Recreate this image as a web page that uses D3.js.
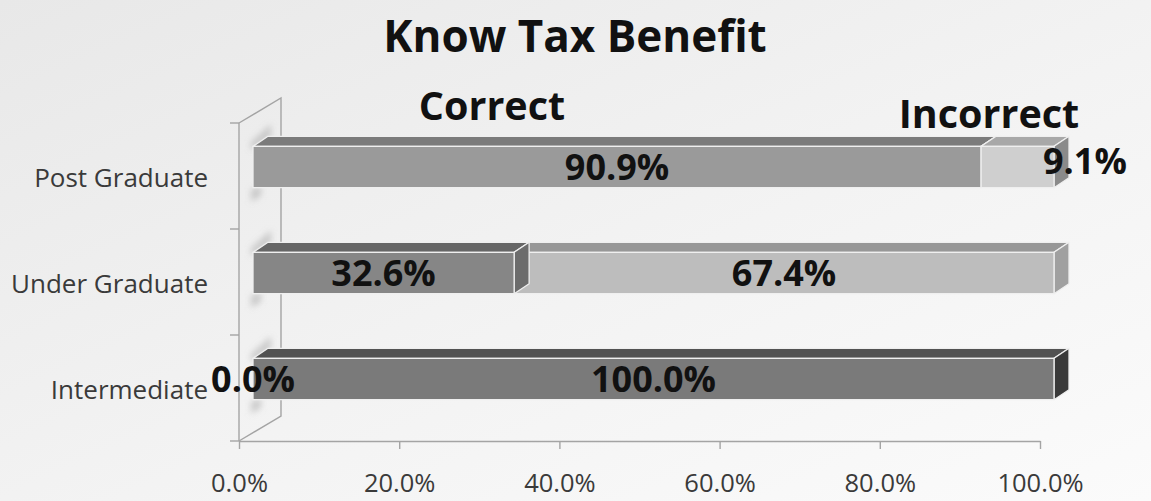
<!DOCTYPE html>
<html>
<head>
<meta charset="utf-8">
<script src="https://cdn.jsdelivr.net/npm/d3@7"></script>
<style>
  html, body { margin: 0; padding: 0; background: #f2f2f2; }
  svg { display: block; }
  text { font-family: "Open Sans", "DejaVu Sans", sans-serif; }
</style>
</head>
<body>
<svg id="chart" width="1151" height="501"></svg>
<script>
// ---- data ----
const chartTitle = "Know Tax Benefit";
const categories = ["Post Graduate", "Under Graduate", "Intermediate"];
const seriesNames = ["Correct", "Incorrect"];
const correctValues = [90.9, 32.6, 0.0];
const incorrectValues = [9.1, 67.4, 100.0];
const xTickValues = [0, 20, 40, 60, 80, 100];
const xTickLabels = ["0.0%", "20.0%", "40.0%", "60.0%", "80.0%", "100.0%"];

// ---- styling ----
// face colours [front, top, side] for each category, per series
const faceColors = {
  "Post Graduate":  [["#9a9a9a", "#7b7b7b", "#808080"], ["#cfcfcf", "#a8a8a8", "#8a8a8a"]],
  "Under Graduate": [["#868686", "#666666", "#6c6c6c"], ["#bdbdbd", "#979797", "#a0a0a0"]],
  "Intermediate":   [["#8a8a8a", "#666666", "#555555"], ["#7a7a7a", "#525252", "#3a3a3a"]]
};

const W = 1151, H = 501;
const plot = { left: 239, right: 1040, top: 123, bottom: 441 };
const wallDepth = { dx: 42, dy: -25 };   // oblique depth of the side wall / floor
const barOffset = { dx: 14, dy: -9 };    // bars sit a third of the way into the depth
const barDepth = { dx: 15, dy: -10 };    // thickness of each bar in depth

const svg = d3.select("#chart");
const defs = svg.append("defs");

const bg = defs.append("linearGradient").attr("id", "bgGrad")
  .attr("x1", "0").attr("y1", "0").attr("x2", "1").attr("y2", "1");
bg.append("stop").attr("offset", "0%").attr("stop-color", "#e8e8e8");
bg.append("stop").attr("offset", "55%").attr("stop-color", "#f3f3f3");
bg.append("stop").attr("offset", "100%").attr("stop-color", "#fbfbfb");

defs.append("filter").attr("id", "soft").attr("x", "-50%").attr("y", "-50%")
  .attr("width", "200%").attr("height", "200%")
  .append("feGaussianBlur").attr("stdDeviation", 3);

svg.append("rect").attr("width", W).attr("height", H).attr("fill", "url(#bgGrad)");

// ---- scales ----
const x = d3.scaleLinear().domain([0, 100]).range([plot.left, plot.right]);
const y = d3.scaleBand().domain(categories)
  .range([plot.top, plot.bottom])
  .paddingInner(0.61).paddingOuter(0.305);
const bw = y.bandwidth();

// ---- title and series captions ----
svg.append("text").attr("x", 575).attr("y", 52)
  .attr("text-anchor", "middle").attr("font-size", 44).attr("font-weight", 700)
  .attr("fill", "#111").text(chartTitle);

const captionPos = [{ x: 492, y: 120 }, { x: 989, y: 128 }];
svg.append("g").selectAll("text").data(seriesNames).join("text")
  .attr("x", (d, i) => captionPos[i].x).attr("y", (d, i) => captionPos[i].y)
  .attr("text-anchor", "middle").attr("font-size", 39.5).attr("font-weight", 700)
  .attr("fill", "#111").text(d => d);

// ---- side wall ----
const wall = svg.append("g").attr("fill", "none").attr("stroke", "#a4a4a4").attr("stroke-width", 1.4);
wall.append("path").attr("d",
  `M${plot.left},${plot.top}` +
  `L${plot.left + wallDepth.dx},${plot.top + wallDepth.dy}` +
  `L${plot.left + wallDepth.dx},${plot.bottom + wallDepth.dy}` +
  `L${plot.left},${plot.bottom}`);
wall.append("path").attr("d", `M${plot.left},${plot.top}V${plot.bottom}`);

// category boundary ticks on the front edge of the wall
const boundaries = categories.map(c => y(c) - y.step() * y.paddingOuter()).concat([plot.bottom]);
wall.selectAll("line.tick").data(boundaries).join("line")
  .attr("x1", plot.left - 9).attr("x2", plot.left)
  .attr("y1", d => d).attr("y2", d => d);

// soft reflections of the bar ends on the wall
svg.append("g").attr("filter", "url(#soft)").selectAll("path").data(categories).join("path")
  .attr("fill", "#9a9a9a").attr("opacity", 0.45)
  .attr("d", c => {
    const t = y(c) + barOffset.dy;
    const x0 = plot.left + 12, x1 = plot.left + 32;
    return `M${x0},${t - 4}L${x1},${t - 22}L${x1},${t - 10}L${x0},${t + 4}Z` +
           `M${x0},${t + bw + 2}L${x0 + 10},${t + bw - 2}L${x0 + 10},${t + bw + 8}L${x0},${t + bw + 14}Z`;
  });

// ---- category labels ----
svg.append("g").selectAll("text").data(categories).join("text")
  .attr("x", 208).attr("y", c => y(c) + bw / 2).attr("dy", "0.42em")
  .attr("text-anchor", "end").attr("font-size", 26).attr("fill", "#3a3a3a")
  .text(c => c);

// ---- value axis ----
const xAxis = svg.append("g").attr("transform", `translate(0,${plot.bottom})`)
  .call(d3.axisBottom(x).tickValues(xTickValues)
    .tickFormat((d, i) => xTickLabels[i]).tickSize(8).tickSizeOuter(0).tickPadding(25));
xAxis.select(".domain").attr("stroke", "#a4a4a4").attr("stroke-width", 1.4);
xAxis.selectAll(".tick line").attr("stroke", "#a4a4a4").attr("stroke-width", 1.4);
xAxis.selectAll(".tick text").attr("font-family", "Open Sans, sans-serif")
  .attr("font-size", 25.5).attr("fill", "#3a3a3a");

// ---- stacked 3D bars ----
const rows = categories.map((c, i) => {
  const vals = [correctValues[i], incorrectValues[i]];
  let acc = 0;
  const segs = vals.map((v, s) => {
    const seg = { cat: c, series: s, value: v, v0: acc, v1: acc + v };
    acc += v;
    return seg;
  });
  return { cat: c, segs };
});

const barLayer = svg.append("g").attr("stroke", "#efefef").attr("stroke-width", 1.3)
  .attr("stroke-linejoin", "round");

rows.forEach(row => {
  // paint the wider pieces first so the narrower ones sit in front
  const order = row.segs.filter(s => s.value > 0).slice().sort((a, b) => b.value - a.value);
  order.forEach(s => {
    const [front, top, side] = faceColors[s.cat][s.series];
    const x0 = x(s.v0) + barOffset.dx, x1 = x(s.v1) + barOffset.dx;
    const yt = y(s.cat) + barOffset.dy, yb = yt + bw;
    const g = barLayer.append("g");
    g.append("path").attr("fill", top).attr("d",
      `M${x0},${yt}L${x1},${yt}L${x1 + barDepth.dx},${yt + barDepth.dy}L${x0 + barDepth.dx},${yt + barDepth.dy}Z`);
    g.append("path").attr("fill", side).attr("d",
      `M${x1},${yt}L${x1 + barDepth.dx},${yt + barDepth.dy}L${x1 + barDepth.dx},${yb + barDepth.dy}L${x1},${yb}Z`);
    g.append("rect").attr("fill", front)
      .attr("x", x0).attr("y", yt).attr("width", x1 - x0).attr("height", bw);
  });
});

// ---- data labels ----
const labelLayer = svg.append("g").attr("font-size", 36).attr("font-weight", 700).attr("fill", "#111");
rows.forEach(row => {
  row.segs.forEach((s, idx) => {
    const x0 = x(s.v0) + barOffset.dx, x1 = x(s.v1) + barOffset.dx;
    const yc = y(s.cat) + barOffset.dy + bw / 2;
    const t = labelLayer.append("text").attr("dy", "0.36em").text(s.value.toFixed(1) + "%");
    const tw = t.node().getComputedTextLength();
    const isLast = idx === row.segs.length - 1;
    if (isLast && s.value > 0 && tw > x1 - x0) {
      // too narrow: set the label just past the bar end
      t.attr("x", x1 - 11).attr("y", yc - 6).attr("text-anchor", "start");
    } else {
      t.attr("x", (x0 + x1) / 2).attr("y", yc).attr("text-anchor", "middle");
    }
  });
});
</script>
</body>
</html>
